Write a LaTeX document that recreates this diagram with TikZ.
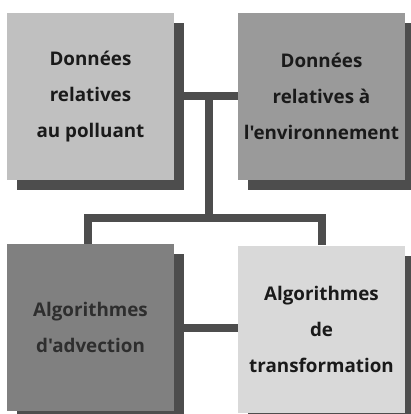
\documentclass[tikz,border=0pt]{standalone}
\usepackage{fontspec}
\setmainfont{Open Sans}[Ligatures=TeXOff]
\usetikzlibrary{shadows,backgrounds,calc}
\definecolor{shad}{HTML}{4D4D4D}
\definecolor{cA}{HTML}{C0C0C0}
\definecolor{cB}{HTML}{9A9A9A}
\definecolor{cC}{HTML}{808080}
\definecolor{cD}{HTML}{D9D9D9}
\definecolor{txt}{HTML}{1A1A1A}
\definecolor{txtdark}{HTML}{2E2E2E}
\begin{document}
\begin{tikzpicture}[x=1pt,y=-1pt,
  box/.style={minimum width=167pt,minimum height=167pt,inner sep=0pt,
    align=center,font=\fontsize{18.8}{36}\selectfont\bfseries,text=txt,
    drop shadow={shadow xshift=10pt,shadow yshift=-10pt,fill=shad,opacity=1}},
  conn/.style={draw=shad,line width=8pt,line cap=butt,line join=miter}]
\useasboundingbox (0,0) rectangle (410,414);
\node[box,fill=cA] (dp) at (90.5,96.5) {Données\\relatives\\au polluant};
\node[box,fill=cB] (de) at (321.5,96.5) {Données\\relatives à\\l'environnement};
\node[box,fill=cC,text=txtdark] (aa) at (90.5,327.5) {Algorithmes\\d'advection};
\node[box,fill=cD] (at) at (321.5,329) {Algorithmes\\de\\transformation};
\coordinate (j1) at (209,96);
\coordinate (j2) at (209,217.5);
\begin{pgfonlayer}{background}
\draw[conn] (dp.east) -- (de.west);
\draw[conn] (j1) -- (j2);
\draw[conn] ($(aa.north)+(-2.5,0)$) |- (j2) -| (at.north);
\draw[conn] (aa.east) -- ($(at.west)+(0,-1.5)$);
\end{pgfonlayer}
\end{tikzpicture}
\end{document}
